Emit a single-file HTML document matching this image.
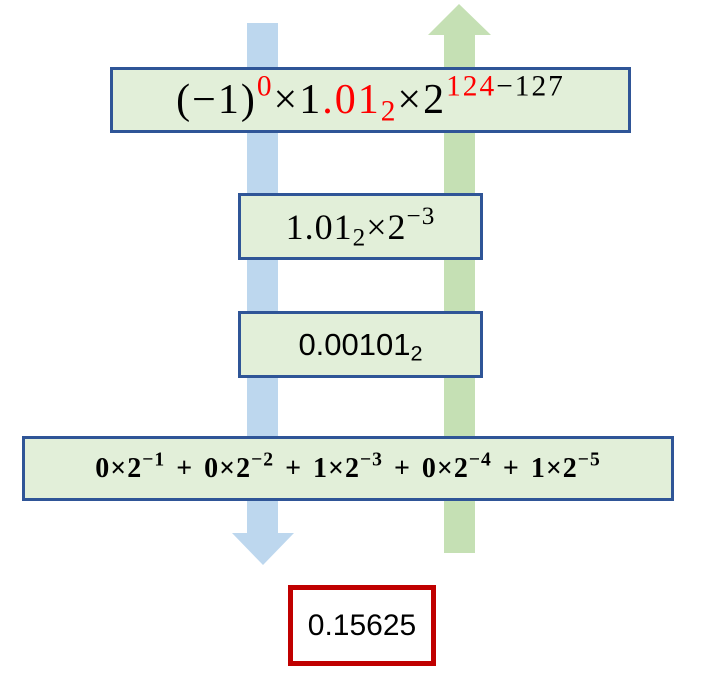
<!DOCTYPE html>
<html><head><meta charset="utf-8"><style>
body{margin:0;width:701px;height:679px;background:#fff;position:relative;overflow:hidden}
.b{position:absolute;background:#e2efd9;border:3px solid #2f5597;box-sizing:border-box;display:flex;align-items:center;justify-content:center;color:#000}
.b>span{display:block;white-space:nowrap}
.s{font-family:"Liberation Serif",serif}
.a{font-family:"Liberation Sans",sans-serif}
sup,sub{font-size:70%;line-height:0}
sup{vertical-align:0.6em}
sub{vertical-align:-0.25em}
.r{color:#ff0000}
</style></head><body>
<svg width="701" height="679" style="position:absolute;left:0;top:0">
<rect x="247" y="23" width="31" height="510" fill="#bdd7ee"/>
<polygon points="232,533 294,533 263,565" fill="#bdd7ee"/>
<rect x="444" y="35" width="31" height="518" fill="#c5e0b4"/>
<polygon points="428,35 491,35 459,4" fill="#c5e0b4"/>
</svg>
<div class="b s" style="left:110px;top:67px;width:521px;height:66px;font-size:42px"><span style="letter-spacing:2px">(−1)<sup class="r">0</sup>×1<span class="r">.01<sub>2</sub></span>×2<sup><span class="r">124</span>−127</sup></span></div>
<div class="b s" style="left:238px;top:193px;width:245px;height:67px;font-size:36px"><span style="letter-spacing:1px">1.01<sub>2</sub>×2<sup>−3</sup></span></div>
<div class="b a" style="left:238px;top:311px;width:245px;height:67px;font-size:31px"><span>0.00101<sub>2</sub></span></div>
<div class="b s" style="left:22px;top:436px;width:652px;height:65px;font-size:28px;font-weight:bold"><span style="letter-spacing:1px;word-spacing:3px">0×2<sup>−1</sup> + 0×2<sup>−2</sup> + 1×2<sup>−3</sup> + 0×2<sup>−4</sup> + 1×2<sup>−5</sup></span></div>
<div class="b a" style="left:288px;top:585px;width:148px;height:81px;background:#fff;border:5px solid #c00000;font-size:30px"><span>0.15625</span></div>
</body></html>
